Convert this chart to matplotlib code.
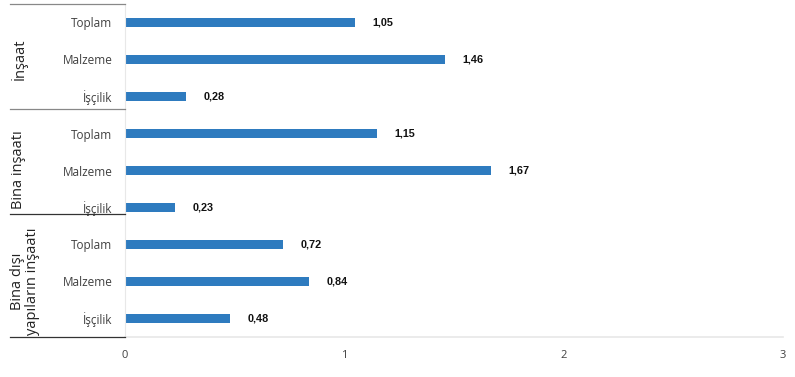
import matplotlib.pyplot as plt
import numpy as np

groups = ["İnşaat", "Bina inşaatı", "Bina dışı\nyapıların inşaatı"]
items = ["Toplam", "Malzeme", "İşçilik"]
values = [1.05, 1.46, 0.28, 1.15, 1.67, 0.23, 0.72, 0.84, 0.48]

labels = items * len(groups)
pos = np.arange(len(values))

fig = plt.figure(figsize=(7.95, 3.77), dpi=100)
ax = fig.add_axes([125/795, 1-337/377, (783-125)/795, 333/377])

ax.barh(pos, values, height=0.27, color="#2e7bbf")
ax.set_ylim(len(values)-0.5, -0.5)
ax.set_xlim(0, 3)
ax.set_xticks([0, 1, 2, 3])
ax.set_xticklabels(["0", "1", "2", "3"], fontsize=8, color="#404040", family="Open Sans")
ax.set_yticks(pos)
ax.set_yticklabels(labels, fontsize=8.5, color="#404040", family="Open Sans")
ax.tick_params(axis="x", length=0, pad=9)
ax.tick_params(axis="y", length=0, pad=9)

for s in ["top", "right"]:
    ax.spines[s].set_visible(False)
ax.spines["left"].set_color("#e8e8e8")
ax.spines["bottom"].set_color("#e8e8e8")
ax.spines["bottom"].set_linewidth(1.2)

for p, v in zip(pos, values):
    ax.text(v + 0.08, p, f"{v:.2f}".replace(".", ","), va="center", ha="left",
            fontsize=7.8, fontweight="bold", color="#111111", family="Liberation Sans")

# group labels and separators in the left margin
x0 = 10/795
x1 = 125/795
for yy, c in [(4, "#888888"), (109, "#888888"), (214, "#333333"), (337, "#333333")]:
    fig.add_artist(plt.Line2D([x0, x1], [1-yy/377, 1-yy/377], color=c, lw=0.9))

for g, yc in zip(groups, [59, 170, 281]):
    fig.text(19/795 if "\n" not in g else 25/795, 1-yc/377, g, rotation=90, va="center", ha="center",
             fontsize=10.5, color="#222222", family="Open Sans", linespacing=1.0)

fig.savefig("out.png", dpi=100)
